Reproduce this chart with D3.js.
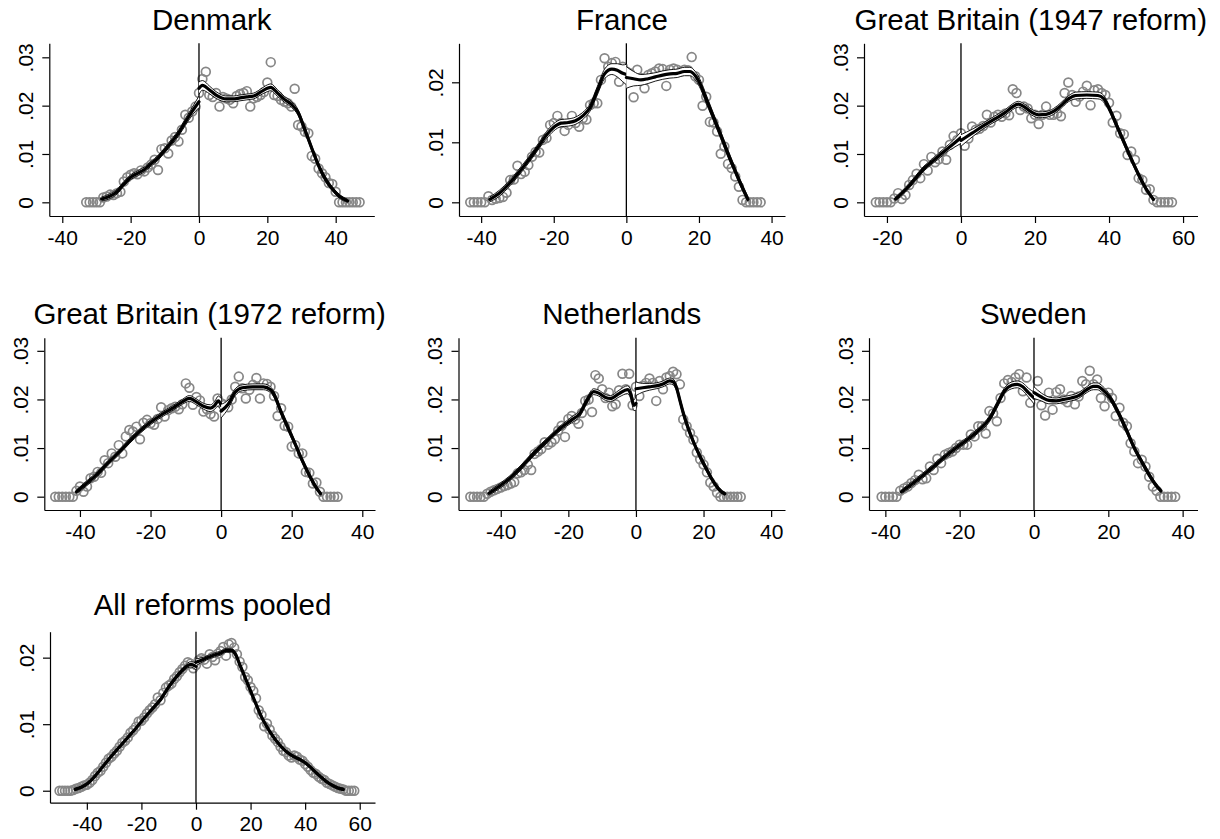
<!DOCTYPE html>
<html>
<head>
<meta charset="utf-8">
<script src="https://cdn.jsdelivr.net/npm/d3@7/dist/d3.min.js"></script>
<style>
  html, body { margin: 0; padding: 0; background: #fff; }
  svg { display: block; }
</style>
</head>
<body>
<svg id="chart" width="1220" height="839"></svg>
<script>
// ---------------------------------------------------------------
// Binned densities around the reform cutoff (one value per integer
// distance bin, starting at the given first bin) and local-polynomial
// fits with confidence half-widths: [x, fitted density, half-width].
// ---------------------------------------------------------------

const denmarkFirstBin = -33;
const denmarkValues = [
  0, 0, 0, 0, 0,
  .0010, .0012, .0016, .0015, .0019, .0022, .0043, .0052, .0057, .0060,
  .0058, .0066, .0064, .0072, .0078, .0088, .0067, .0110, .0112, .0101,
  .0128, .0135, .0126, .0150, .0181, .0175, .0188, .0198,
  .0226, .0255, .0270, .0222, .0218, .0226, .0198, .0218, .0215, .0212,
  .0205, .0220, .0224, .0226, .0230, .0198, .0215, .0218, .0222, .0228,
  .0248, .0290, .0222, .0220, .0212, .0208, .0205, .0198, .0235, .0160,
  .0157, .0146, .0143, .0096, .0090, .0070, .0060, .0052, .0040, .0038,
  .0022, 0, 0, 0, 0, 0, 0, 0
];
const denmarkFitLeft = [
  [-28.5, .0007, .0004], [-26, .0013, .0005], [-24, .0022, .0005], [-22, .0038, .0005],
  [-20, .0052, .0005], [-18, .0060, .0005], [-16, .0068, .0005], [-14, .0080, .0005],
  [-12, .0092, .0005], [-10, .0108, .0005], [-8, .0125, .0006], [-6, .0143, .0006],
  [-4, .0166, .0007], [-2, .0188, .0008], [0, .0208, .0012]
];
const denmarkFitRight = [
  [0, .0236, .0013], [1, .0242, .0010], [3, .0233, .0008], [5, .0222, .0007],
  [8, .0214, .0006], [10, .0214, .0006], [12, .0216, .0006], [14, .0218, .0006],
  [16, .0220, .0006], [18, .0228, .0006], [20, .0236, .0007], [21, .0238, .0007],
  [23, .0226, .0007], [25, .0213, .0006], [27, .0203, .0006], [29, .0186, .0006],
  [31, .0150, .0006], [33, .0112, .0005], [35, .0076, .0005], [37, .0048, .0005],
  [39, .0028, .0004], [41, .0013, .0004], [43.5, .0003, .0003]
];

const franceFirstBin = -43;
const franceValues = [
  0, 0, 0, 0, 0,
  .0010, .0004, .0006, .0007, .0009, .0016, .0037, .0038, .0061, .0047,
  .0051, .0062, .0076, .0084, .0083, .0104, .0107, .0129, .0132, .0144,
  .0132, .0119, .0129, .0144, .0132, .0126, .0140, .0138, .0162, .0165,
  .0165, .0204, .0240, .0226, .0232, .0234, .0201, .0226,
  .0218, .0215, .0175, .0221, .0207, .0190, .0212, .0215, .0218, .0223,
  .0222, .0194, .0221, .0223, .0221, .0218, .0221, .0220, .0242, .0210,
  .0204, .0161, .0176, .0134, .0133, .0118, .0081, .0093, .0064, .0057,
  .0043, .0026, .0004, 0, 0, 0, 0, 0
];
const franceFitLeft = [
  [-37.6, .0005, .0004], [-35, .0015, .0005], [-32, .0033, .0005], [-30, .0047, .0005],
  [-28, .0062, .0005], [-26, .0078, .0005], [-24, .0095, .0005], [-22, .0112, .0006],
  [-20, .0125, .0006], [-18, .0132, .0006], [-16, .0133, .0006], [-14, .0136, .0006],
  [-12, .0144, .0006], [-10, .0158, .0006], [-8, .0186, .0007], [-6, .0214, .0008],
  [-4, .0222, .0009], [-2.5, .0220, .0011], [-1, .0215, .0014], [0, .0213, .0017]
];
const franceFitRight = [
  [0, .0208, .0018], [2, .0206, .0012], [4, .0204, .0009], [6, .0206, .0008],
  [8, .0209, .0007], [10, .0212, .0007], [12, .0214, .0007], [14, .0215, .0007],
  [16, .0218, .0007], [17.5, .0218, .0007], [19, .0211, .0007], [20.5, .0195, .0007],
  [22, .0172, .0007], [24, .0142, .0006], [26, .0112, .0006], [28, .0081, .0006],
  [30, .0052, .0005], [32, .0024, .0005], [33.5, .0005, .0004]
];

const gb1947FirstBin = -23;
const gb1947Values = [
  0, 0, 0, 0, 0,
  .0008, .0019, .0007, .0015, .0036, .0046, .0059, .0050, .0079, .0066,
  .0094, .0083, .0089, .0105, .0088, .0119, .0137, .0129,
  .0143, .0117, .0132, .0157, .0150, .0152, .0158, .0181, .0165, .0177,
  .0181, .0177, .0184, .0180, .0234, .0226, .0191, .0198, .0194, .0174,
  .0181, .0162, .0181, .0198, .0181, .0181, .0184, .0178, .0226, .0248,
  .0222, .0208, .0219, .0229, .0241, .0201, .0232, .0234, .0226, .0222,
  .0206, .0165, .0179, .0143, .0141, .0098, .0105, .0088, .0050, .0046,
  .0026, .0027, .0005, 0, 0, 0, 0, 0
];
const gb1947FitLeft = [
  [-17.7, .0007, .0004], [-15, .0026, .0005], [-13, .0043, .0005], [-10, .0070, .0005],
  [-8, .0083, .0005], [-6, .0096, .0006], [-4, .0109, .0006], [-2, .0121, .0008],
  [0, .0134, .0012]
];
const gb1947FitRight = [
  [0, .0128, .0012], [3, .0143, .0008], [6, .0158, .0006], [9, .0172, .0006],
  [12, .0186, .0006], [14, .0198, .0006], [15.5, .0203, .0006], [17, .0198, .0006],
  [19, .0187, .0006], [21, .0181, .0006], [23, .0182, .0006], [25, .0188, .0006],
  [27, .0200, .0006], [29, .0214, .0006], [31, .0221, .0007], [34, .0222, .0007],
  [37, .0221, .0007], [38.5, .0215, .0007], [40, .0195, .0006], [42, .0160, .0006],
  [44, .0125, .0006], [46, .0090, .0005], [48, .0057, .0005], [50, .0028, .0004],
  [52, .0006, .0003]
];

const gb1972FirstBin = -47;
const gb1972Values = [
  0, 0, 0, 0, 0, 0,
  .0012, .0021, .0010, .0021, .0038, .0041, .0051, .0049, .0075, .0069,
  .0089, .0082, .0106, .0089, .0124, .0137, .0134, .0144, .0118, .0152,
  .0158, .0151, .0148, .0160, .0184, .0165, .0178, .0182, .0185, .0180,
  .0190, .0233, .0224, .0189, .0205, .0198, .0175, .0180, .0170, .0165,
  .0202,
  .0192, .0189, .0184, .0200, .0226, .0247, .0223, .0202, .0220, .0230,
  .0244, .0202, .0233, .0232, .0226, .0207, .0166, .0182, .0146, .0144,
  .0103, .0106, .0089, .0089, .0051, .0049, .0027, .0029, .0010,
  0, 0, 0, 0, 0
];
const gb1972FitLeft = [
  [-41, .0010, .0004], [-38, .0028, .0005], [-35, .0047, .0005], [-32, .0070, .0005],
  [-29, .0091, .0005], [-26, .0114, .0005], [-23, .0135, .0005], [-20, .0153, .0005],
  [-17, .0168, .0005], [-14, .0181, .0005], [-11, .0195, .0005], [-9, .0202, .0006],
  [-7, .0195, .0006], [-5, .0186, .0006], [-3, .0182, .0007], [-1.8, .0188, .0008],
  [-0.8, .0197, .0010], [0, .0188, .0014]
];
const gb1972FitRight = [
  [0, .0176, .0014], [2, .0190, .0009], [4, .0215, .0007], [6, .0224, .0006],
  [9, .0226, .0006], [12, .0226, .0006], [14, .0220, .0006], [15, .0210, .0006],
  [17, .0174, .0006], [19, .0141, .0006], [21, .0108, .0005], [23, .0074, .0005],
  [25, .0044, .0005], [27, .0018, .0004], [28.2, .0006, .0003]
];

const netherlandsFirstBin = -49;
const netherlandsValues = [
  0, 0, 0, 0, 0,
  .0006, .0010, .0013, .0016, .0019, .0022, .0024, .0027, .0030, .0048,
  .0050, .0055, .0066, .0055, .0088, .0093, .0098, .0112, .0107, .0112,
  .0118, .0136, .0146, .0123, .0160, .0166, .0159, .0150, .0172, .0197,
  .0200, .0174, .0250, .0243, .0221, .0203, .0214, .0186, .0190, .0219,
  .0253, .0221, .0253, .0188,
  .0226, .0207, .0228, .0234, .0243, .0234, .0197, .0238, .0221, .0245,
  .0248, .0257, .0252, .0231, .0159, .0145, .0131, .0117, .0091, .0077,
  .0066, .0050, .0029, .0021, .0008,
  0, 0, 0, 0, 0, 0, 0
];
const netherlandsFitLeft = [
  [-43.5, .0007, .0004], [-40.5, .0021, .0005], [-37.5, .0037, .0005], [-34, .0060, .0005],
  [-31, .0083, .0005], [-28, .0104, .0005], [-25, .0124, .0005], [-22, .0143, .0005],
  [-19, .0158, .0006], [-16.5, .0172, .0006], [-14.5, .0198, .0006], [-12.5, .0216, .0006],
  [-11, .0213, .0006], [-9, .0204, .0006], [-7.5, .0202, .0006], [-5, .0212, .0007],
  [-2.5, .0220, .0008], [-1.5, .0210, .0009], [-0.6, .0188, .0011], [0, .0192, .0014]
];
const netherlandsFitRight = [
  [0, .0222, .0014], [2, .0224, .0009], [4, .0226, .0007], [6, .0228, .0006],
  [8, .0232, .0006], [10, .0238, .0006], [11, .0236, .0006], [12, .0224, .0006],
  [13, .0198, .0006], [14, .0172, .0006], [15.5, .0140, .0006], [17, .0113, .0005],
  [19, .0082, .0005], [21, .0055, .0005], [23, .0030, .0004], [25, .0012, .0004],
  [26.3, .0006, .0003]
];

const swedenFirstBin = -41;
const swedenValues = [
  0, 0, 0, 0, 0,
  .0012, .0017, .0021, .0028, .0034, .0045, .0036, .0038, .0062, .0055,
  .0078, .0069, .0086, .0090, .0093, .0100, .0107, .0107, .0107, .0128,
  .0124, .0145, .0145, .0130, .0176, .0171, .0155, .0203, .0233, .0240,
  .0236, .0245, .0252, .0217, .0245, .0193,
  .0208, .0238, .0188, .0167, .0214, .0179, .0215, .0221, .0200, .0194,
  .0207, .0190, .0206, .0238, .0231, .0259, .0231, .0241, .0203, .0186,
  .0214, .0203, .0166, .0183, .0152, .0145, .0110, .0093, .0069, .0076,
  .0062, .0041, .0021, .0012,
  0, 0, 0, 0, 0
];
const swedenFitLeft = [
  [-35.7, .0010, .0004], [-33, .0025, .0005], [-30, .0043, .0005], [-27, .0062, .0005],
  [-24, .0082, .0005], [-21, .0100, .0005], [-18, .0117, .0005], [-15, .0136, .0005],
  [-12, .0160, .0006], [-10, .0188, .0006], [-8, .0217, .0006], [-6, .0229, .0007],
  [-4.5, .0231, .0007], [-3, .0226, .0008], [-1.5, .0214, .0009], [0, .0203, .0012]
];
const swedenFitRight = [
  [0, .0214, .0012], [2, .0205, .0008], [4, .0198, .0007], [6, .0197, .0006],
  [8, .0200, .0006], [10, .0203, .0006], [12, .0208, .0006], [14, .0219, .0006],
  [16, .0227, .0007], [17, .0227, .0007], [18.5, .0220, .0007], [20.5, .0203, .0006],
  [23, .0168, .0006], [25, .0135, .0006], [27, .0100, .0005], [29, .0072, .0005],
  [31, .0045, .0005], [33, .0022, .0004], [34.2, .0012, .0004]
];

const pooledFirstBin = -50;
const pooledValues = [
  0, 0, 0, 0, 0,
  .0001, .0003, .0004, .0006, .0008, .0009, .0012, .0016, .0022, .0027,
  .0030, .0036, .0042, .0048, .0051, .0056, .0060, .0066, .0072, .0075,
  .0080, .0087, .0091, .0096, .0104, .0105, .0110, .0116, .0121, .0125,
  .0130, .0140, .0136, .0147, .0155, .0158, .0161, .0168, .0172, .0178,
  .0183, .0188, .0193, .0191, .0184,
  .0189, .0196, .0199, .0197, .0191, .0205, .0201, .0196, .0206, .0210,
  .0216, .0203, .0220, .0222, .0215, .0205, .0194, .0186, .0171, .0166,
  .0156, .0150, .0139, .0121, .0114, .0097, .0101, .0092, .0083, .0078,
  .0073, .0066, .0060, .0058, .0053, .0050, .0053, .0051, .0047, .0045,
  .0040, .0036, .0031, .0027, .0025, .0021, .0018, .0016, .0012, .0010,
  .0008, .0006, .0004, .0003, .0002,
  0, 0, 0, 0
];
const pooledFitLeft = [
  [-44.3, .0002, .0002], [-40, .0010, .0002], [-37, .0022, .0002], [-34, .0037, .0002],
  [-31, .0052, .0002], [-28, .0066, .0002], [-25, .0080, .0002], [-22, .0094, .0002],
  [-19, .0109, .0002], [-16, .0123, .0002], [-13, .0137, .0003], [-10, .0156, .0003],
  [-7, .0172, .0003], [-4, .0185, .0003], [-2, .0190, .0004], [0, .0187, .0005]
];
const pooledFitRight = [
  [0, .0193, .0005], [3, .0198, .0003], [6, .0203, .0003], [9, .0207, .0003],
  [11, .0211, .0003], [13, .0211, .0003], [14.5, .0205, .0003], [16, .0190, .0003],
  [18, .0170, .0003], [20, .0150, .0003], [22, .0130, .0003], [24, .0111, .0003],
  [26, .0096, .0002], [28, .0083, .0002], [30, .0072, .0002], [32, .0063, .0002],
  [34, .0056, .0002], [36, .0051, .0002], [38, .0047, .0002], [40, .0042, .0002],
  [42, .0035, .0002], [44, .0027, .0002], [46, .0020, .0002], [48, .0013, .0002],
  [50, .0008, .0002], [52, .0004, .0002], [54, .0002, .0002]
];

// Tick values
const xTicksA = [-40, -20, 0, 20, 40];
const xTicksB = [-20, 0, 20, 40, 60];
const xTicksC = [-40, -20, 0, 20, 40, 60];
const yTicks3 = [0, .01, .02, .03];
const yTicks2 = [0, .01, .02];

// Panel titles
const titles = [
  "Denmark", "France", "Great Britain (1947 reform)",
  "Great Britain (1972 reform)", "Netherlands", "Sweden",
  "All reforms pooled"
];

// ---------------------------------------------------------------
// Panel contents
// ---------------------------------------------------------------
const panels = [
  { title: titles[0], first: denmarkFirstBin, values: denmarkValues, fits: [denmarkFitLeft, denmarkFitRight], xTicks: xTicksA, yTicks: yTicks3 },
  { title: titles[1], first: franceFirstBin, values: franceValues, fits: [franceFitLeft, franceFitRight], xTicks: xTicksA, yTicks: yTicks2 },
  { title: titles[2], first: gb1947FirstBin, values: gb1947Values, fits: [gb1947FitLeft, gb1947FitRight], xTicks: xTicksB, yTicks: yTicks3 },
  { title: titles[3], first: gb1972FirstBin, values: gb1972Values, fits: [gb1972FitLeft, gb1972FitRight], xTicks: xTicksA, yTicks: yTicks3 },
  { title: titles[4], first: netherlandsFirstBin, values: netherlandsValues, fits: [netherlandsFitLeft, netherlandsFitRight], xTicks: xTicksA, yTicks: yTicks3 },
  { title: titles[5], first: swedenFirstBin, values: swedenValues, fits: [swedenFitLeft, swedenFitRight], xTicks: xTicksA, yTicks: yTicks3 },
  { title: titles[6], first: pooledFirstBin, values: pooledValues, fits: [pooledFitLeft, pooledFitRight], xTicks: xTicksC, yTicks: yTicks2 }
];

// Plot regions (pixels) and axis ranges for each panel
const layout = [
  { left: 49.3,  right: 374.3,  top: 43.3,  bottom: 216,   titleY: 29.5,  xDomain: [-43.8, 51.3], yDomain: [-0.00283, 0.0329] },
  { left: 459,   right: 785,    top: 43.3,  bottom: 216,   titleY: 29.5,  xDomain: [-46.1, 43.7], yDomain: [-0.00228, 0.0265] },
  { left: 864,   right: 1197.5, top: 43.3,  bottom: 216,   titleY: 29.5,  xDomain: [-26.2, 63.9], yDomain: [-0.00283, 0.0329] },
  { left: 44.3,  right: 375,    top: 337.7, bottom: 510,   titleY: 323.5, xDomain: [-50.1, 43.6], yDomain: [-0.00274, 0.0327] },
  { left: 458.5, right: 785,    top: 337.7, bottom: 510,   titleY: 323.5, xDomain: [-52.5, 44.1], yDomain: [-0.00274, 0.0327] },
  { left: 869,   right: 1197.5, top: 337.7, bottom: 510,   titleY: 323.5, xDomain: [-44.4, 44.0], yDomain: [-0.00274, 0.0327] },
  { left: 50,    right: 375,    top: 631.7, bottom: 802.7, titleY: 614.5, xDomain: [-53.5, 65.6], yDomain: [-0.0018, 0.0239] }
];

const FONT = "'Liberation Sans', Arial, Helvetica, sans-serif";
const xFmt = v => String(v);
const yFmt = v => v === 0 ? "0" : d3.format(".2f")(v).replace(/^0/, "");

const svg = d3.select("#chart");
svg.append("rect").attr("width", 1220).attr("height", 839).attr("fill", "#fff");

panels.forEach((p, i) => {
  const L = layout[i];
  const x = d3.scaleLinear().domain(L.xDomain).range([L.left, L.right]);
  const y = d3.scaleLinear().domain(L.yDomain).range([L.bottom, L.top]);
  const g = svg.append("g");

  // title
  g.append("text")
    .attr("x", (L.left + L.right) / 2)
    .attr("y", L.titleY)
    .attr("text-anchor", "middle")
    .attr("font-family", FONT)
    .attr("font-size", 29.5)
    .attr("fill", "#000")
    .text(p.title);

  // binned densities
  const pts = p.values.map((v, k) => ({ x: p.first + k, y: v }));
  g.append("g").selectAll("circle").data(pts).join("circle")
    .attr("cx", d => x(d.x))
    .attr("cy", d => y(d.y))
    .attr("r", 4.4)
    .attr("fill", "none")
    .attr("stroke", "#878787")
    .attr("stroke-width", 1.7);

  // cutoff line
  g.append("line")
    .attr("x1", x(0)).attr("x2", x(0))
    .attr("y1", L.top).attr("y2", L.bottom)
    .attr("stroke", "#000").attr("stroke-width", 1.3);

  // fits with confidence bands, each side of the cutoff
  const curve = d3.curveMonotoneX;
  const band = d3.area().curve(curve)
    .x(d => x(d[0])).y0(d => y(d[1] - d[2])).y1(d => y(d[1] + d[2]));
  const lo = d3.line().curve(curve).x(d => x(d[0])).y(d => y(d[1] - d[2]));
  const hi = d3.line().curve(curve).x(d => x(d[0])).y(d => y(d[1] + d[2]));
  const mid = d3.line().curve(curve).x(d => x(d[0])).y(d => y(d[1]));

  p.fits.forEach(f => {
    g.append("path").attr("d", band(f)).attr("fill", "#fff").attr("stroke", "none");
    g.append("path").attr("d", lo(f)).attr("fill", "none").attr("stroke", "#000").attr("stroke-width", 0.9);
    g.append("path").attr("d", hi(f)).attr("fill", "none").attr("stroke", "#000").attr("stroke-width", 0.9);
    g.append("path").attr("d", mid(f)).attr("fill", "none").attr("stroke", "#000")
      .attr("stroke-width", 3.2).attr("stroke-linejoin", "round").attr("stroke-linecap", "round");
  });

  // axes
  const xAxis = d3.axisBottom(x).tickValues(p.xTicks).tickSize(7).tickSizeOuter(0).tickPadding(6.6)
    .tickFormat(xFmt);
  const gx = g.append("g").attr("transform", `translate(0,${L.bottom})`).call(xAxis);
  gx.attr("font-family", FONT).attr("font-size", 21);
  gx.selectAll("path, line").attr("stroke", "#000").attr("stroke-width", 1.2);
  gx.selectAll("text").attr("fill", "#000");

  const yAxis = d3.axisLeft(y).tickValues(p.yTicks).tickSize(7).tickSizeOuter(0).tickFormat(yFmt);
  const gy = g.append("g").attr("transform", `translate(${L.left},0)`).call(yAxis);
  gy.attr("font-family", FONT).attr("font-size", 21);
  gy.selectAll("path, line").attr("stroke", "#000").attr("stroke-width", 1.2);
  gy.selectAll("text")
    .attr("x", 0).attr("dy", 0)
    .attr("text-anchor", "middle")
    .attr("transform", "translate(-16.5,0) rotate(-90)")
    .attr("fill", "#000");
});
</script>
</body>
</html>
